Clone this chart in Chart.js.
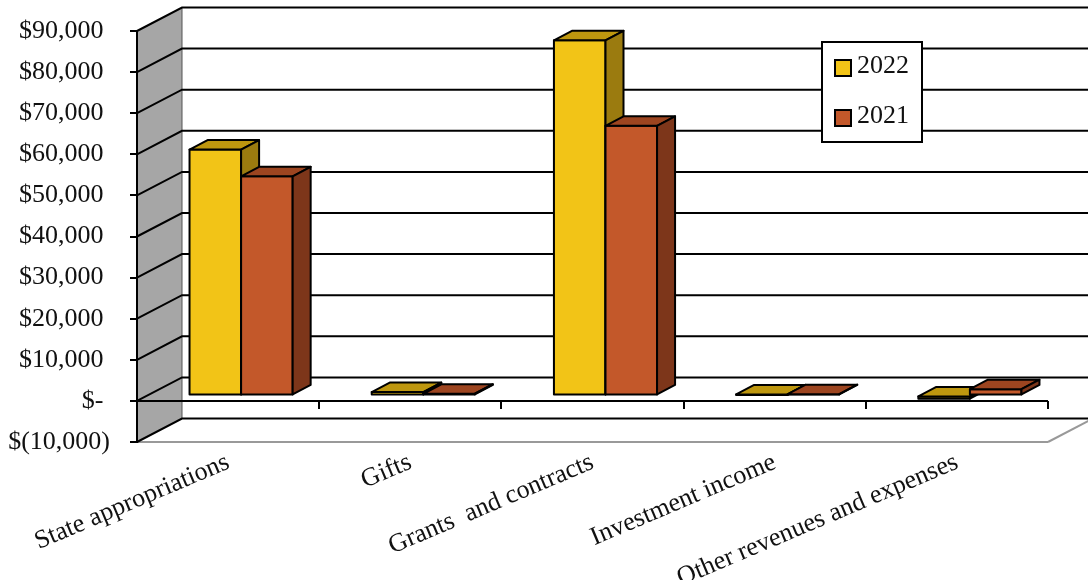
<!DOCTYPE html>
<html>
<head>
<meta charset="utf-8">
<script src="https://cdn.jsdelivr.net/npm/chart.js@4"></script>
<style>
  html, body { margin: 0; background: #fff; }
  canvas { display: block; }
</style>
</head>
<body>
<canvas id="chart" width="1088" height="580"></canvas>
<script>
const categories = ["State appropriations", "Gifts", "Grants  and contracts", "Investment income", "Other revenues and expenses"];
const years = ["2022", "2021"];
const values2022 = [59800, 800, 86400, 100, -800];
const values2021 = [53300, 400, 65600, 300, 1500];
const yMin = -10000;
const yMax = 90000;
const yStep = 10000;

// front / top / side shades for each series
const faces = [
  { front: "#F2C417", top: "#BE970F", side: "#9B7B0F" },
  { front: "#C3582A", top: "#9D4520", side: "#7D361A" }
];

const WALL_DX = 45, WALL_DY = -23.5;
const BAR_DX = 13, BAR_DY = -5.5;
const DEPTH_DX = 18, DEPTH_DY = -9.5;
const serif = "'Liberation Serif', 'Times New Roman', serif";

function money(v) {
  if (v === 0) return "$- ";
  const s = String(Math.abs(v)).replace(/\B(?=(\d{3})+(?!\d))/g, ",");
  return v < 0 ? "$(" + s + ")" : "$" + s + " ";
}

function poly(ctx, pts, fill, stroke, lw) {
  ctx.beginPath();
  ctx.moveTo(pts[0][0], pts[0][1]);
  for (let i = 1; i < pts.length; i++) ctx.lineTo(pts[i][0], pts[i][1]);
  ctx.closePath();
  if (fill) { ctx.fillStyle = fill; ctx.fill(); }
  if (stroke) { ctx.strokeStyle = stroke; ctx.lineWidth = lw; ctx.stroke(); }
}

function line(ctx, x1, y1, x2, y2, color, lw) {
  ctx.beginPath();
  ctx.moveTo(x1, y1);
  ctx.lineTo(x2, y2);
  ctx.strokeStyle = color;
  ctx.lineWidth = lw;
  ctx.stroke();
}

const box3d = {
  id: "box3d",
  beforeDraw(chart) {
    const ctx = chart.ctx;
    const ys = chart.scales.y, xs = chart.scales.x;
    const L = chart.chartArea.left, R = chart.chartArea.right;
    const W = chart.width;
    const top = ys.getPixelForValue(yMax), bot = ys.getPixelForValue(yMin);
    ctx.save();
    ctx.lineCap = "butt";

    // side wall
    poly(ctx, [[L, top], [L + WALL_DX, top + WALL_DY], [L + WALL_DX, bot + WALL_DY], [L, bot]], "#a6a6a6");
    line(ctx, L + WALL_DX, top + WALL_DY, L + WALL_DX, bot + WALL_DY, "#555", 1);

    // floor edges
    line(ctx, L, bot, R, bot, "#999", 2);
    line(ctx, R, bot, R + WALL_DX, bot + WALL_DY, "#999", 2);

    // gridlines across side and back walls
    for (let v = yMin; v <= yMax; v += yStep) {
      const py = ys.getPixelForValue(v);
      ctx.beginPath();
      ctx.moveTo(L, py);
      ctx.lineTo(L + WALL_DX, py + WALL_DY);
      ctx.lineTo(W, py + WALL_DY);
      ctx.strokeStyle = "#000";
      ctx.lineWidth = 2;
      ctx.stroke();
    }

    // category axis at zero
    const p0 = ys.getPixelForValue(0);
    line(ctx, L, p0, R, p0, "#000", 2);
    const half = (xs.getPixelForValue(1) - xs.getPixelForValue(0)) / 2;
    for (let i = 0; i <= categories.length; i++) {
      const bx = Math.round(xs.getPixelForValue(i) - half);
      line(ctx, bx, p0, bx, p0 + 8, "#000", 2);
    }
    ctx.restore();
  },
  beforeDatasetsDraw(chart) {
    const ctx = chart.ctx;
    ctx.save();
    ctx.lineJoin = "round";
    for (let i = 0; i < categories.length; i++) {
      chart.data.datasets.forEach((ds, d) => {
        const el = chart.getDatasetMeta(d).data[i];
        const p = el.getProps(["x", "y", "base", "width"], true);
        const l = p.x - p.width / 2 + BAR_DX, r = p.x + p.width / 2 + BAR_DX;
        const t = Math.min(p.y, p.base) + BAR_DY, b = Math.max(p.y, p.base) + BAR_DY;
        const f = faces[d];
        poly(ctx, [[l, t], [r, t], [r, b], [l, b]], f.front, "#000", 2);
        poly(ctx, [[l, t], [l + DEPTH_DX, t + DEPTH_DY], [r + DEPTH_DX, t + DEPTH_DY], [r, t]], f.top, "#000", 2);
        poly(ctx, [[r, t], [r + DEPTH_DX, t + DEPTH_DY], [r + DEPTH_DX, b + DEPTH_DY], [r, b]], f.side, "#000", 2);
      });
    }
    ctx.restore();
    return false;
  },
  afterDraw(chart) {
    const ctx = chart.ctx;
    ctx.save();
    poly(ctx, [[822, 42], [922, 42], [922, 142], [822, 142]], "#fff", "#000", 2);
    ctx.font = "26px " + serif;
    ctx.textBaseline = "middle";
    chart.data.datasets.forEach((ds, d) => {
      const y = 60 + d * 50;
      poly(ctx, [[835, y], [851, y], [851, y + 16], [835, y + 16]], faces[d].front, "#000", 2);
      ctx.fillStyle = "#111";
      ctx.fillText(ds.label, 857, y + 6);
    });
    ctx.restore();
  }
};

new Chart(document.getElementById("chart"), {
  type: "bar",
  data: {
    labels: categories,
    datasets: [
      { label: years[0], data: values2022, backgroundColor: faces[0].front },
      { label: years[1], data: values2021, backgroundColor: faces[1].front }
    ]
  },
  options: {
    responsive: false,
    animation: false,
    categoryPercentage: 0.566,
    barPercentage: 1,
    layout: { padding: { top: 31, right: 40, left: 0, bottom: 0 } },
    plugins: { legend: { display: false }, tooltip: { enabled: false } },
    scales: {
      x: {
        grid: { display: false, drawTicks: false },
        border: { display: false },
        ticks: {
          minRotation: 23, maxRotation: 23, autoSkip: false, padding: 5,
          color: "#111", font: { family: serif, size: 26 }
        },
        afterFit: s => { s.height = 138; }
      },
      y: {
        min: yMin,
        max: yMax,
        ticks: {
          stepSize: yStep, padding: 20, color: "#111",
          font: { family: serif, size: 26 },
          callback: v => money(v)
        },
        grid: { drawOnChartArea: false, drawTicks: true, tickLength: 7, color: "#000", lineWidth: 2 },
        border: { display: true, color: "#000", width: 2 },
        afterFit: s => { s.width = 137; s.paddingTop = 0; s.paddingBottom = 0; }
      }
    }
  },
  plugins: [box3d]
});
</script>
</body>
</html>
